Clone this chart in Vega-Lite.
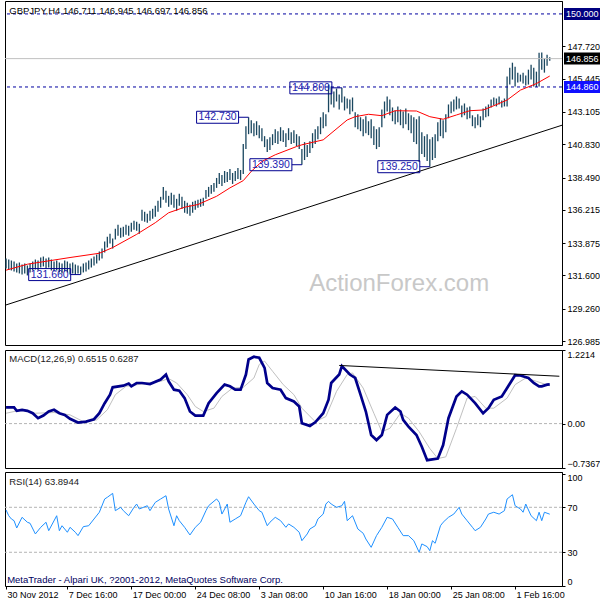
{
"$schema": "https://vega.github.io/schema/vega-lite/v6.json",
"background": "white",
"padding": {"left": 0, "top": 0, "right": 0, "bottom": 0},
"spacing": 2,
"config": {
  "view": {"stroke": "#000000", "strokeWidth": 1},
  "axis": {"grid": false, "labelOverlap": false, "labelFont": "Liberation Sans", "labelFontSize": 9, "labelColor": "#000000", "tickColor": "#000000", "domainColor": "#000000", "tickSize": 3, "labelPadding": 2},
  "text": {"font": "Liberation Sans"}
},
"datasets": {
  "bars": [
{"i":0,"y":132.09,"h":132.79},{"i":1,"y":132.02,"h":132.72},{"i":2,"y":131.95,"h":132.65},{"i":3,"y":131.88,"h":132.58},{"i":4,"y":131.81,"h":132.44},
{"i":5,"y":131.74,"h":132.51},{"i":6,"y":131.67,"h":132.37},{"i":7,"y":131.74,"h":132.44},{"i":8,"y":131.60,"h":132.30},{"i":9,"y":131.81,"h":132.44},
{"i":10,"y":131.95,"h":132.58},{"i":11,"y":132.02,"h":132.72},{"i":12,"y":131.95,"h":132.65},{"i":13,"y":132.16,"h":132.86},{"i":14,"y":132.23,"h":132.93},
{"i":15,"y":132.09,"h":132.79},{"i":16,"y":132.16,"h":132.86},{"i":17,"y":131.95,"h":132.72},{"i":18,"y":131.88,"h":132.58},{"i":19,"y":131.95,"h":132.65},
{"i":20,"y":131.81,"h":132.51},{"i":21,"y":131.74,"h":132.44},{"i":22,"y":131.88,"h":132.65},{"i":23,"y":131.81,"h":132.58},{"i":24,"y":131.67,"h":132.44},
{"i":25,"y":131.74,"h":132.51},{"i":26,"y":131.67,"h":132.37},{"i":27,"y":131.74,"h":132.30},{"i":28,"y":131.66,"h":132.23},{"i":29,"y":131.81,"h":132.44},
{"i":30,"y":131.88,"h":132.51},{"i":31,"y":132.02,"h":132.65},{"i":32,"y":132.16,"h":132.79},{"i":33,"y":132.30,"h":132.93},{"i":34,"y":132.44,"h":133.07},
{"i":35,"y":132.65,"h":133.28},{"i":36,"y":132.79,"h":133.49},{"i":37,"y":133.21,"h":133.98},{"i":38,"y":133.56,"h":134.33},{"i":39,"y":133.84,"h":134.54},
{"i":40,"y":133.49,"h":134.19},{"i":41,"y":134.12,"h":134.89},{"i":42,"y":134.40,"h":135.17},{"i":43,"y":134.26,"h":134.96},{"i":44,"y":134.33,"h":135.03},
{"i":45,"y":134.47,"h":135.17},{"i":46,"y":134.40,"h":135.10},{"i":47,"y":134.68,"h":135.31},{"i":48,"y":134.82,"h":135.45},{"i":49,"y":134.75,"h":135.38},
{"i":50,"y":134.54,"h":135.24},{"i":51,"y":135.45,"h":136.22},{"i":52,"y":135.38,"h":136.08},{"i":53,"y":135.31,"h":135.94},{"i":54,"y":135.45,"h":136.15},
{"i":55,"y":135.59,"h":136.29},{"i":56,"y":135.73,"h":136.50},{"i":57,"y":136.08,"h":136.85},{"i":58,"y":136.36,"h":137.13},{"i":59,"y":136.92,"h":137.83},
{"i":60,"y":136.71,"h":137.55},{"i":61,"y":136.43,"h":137.20},{"i":62,"y":136.57,"h":137.41},{"i":63,"y":136.36,"h":137.27},{"i":64,"y":136.15,"h":136.99},
{"i":65,"y":136.50,"h":137.34},{"i":66,"y":136.29,"h":137.13},{"i":67,"y":136.01,"h":136.85},{"i":68,"y":135.94,"h":136.71},{"i":69,"y":135.80,"h":136.57},
{"i":70,"y":136.01,"h":136.78},{"i":71,"y":136.22,"h":136.85},{"i":72,"y":136.36,"h":136.92},{"i":73,"y":136.43,"h":136.99},{"i":74,"y":136.50,"h":137.06},
{"i":75,"y":136.99,"h":137.62},{"i":76,"y":137.13,"h":137.83},{"i":77,"y":137.34,"h":137.97},{"i":78,"y":137.48,"h":138.11},{"i":79,"y":137.76,"h":138.46},
{"i":80,"y":138.04,"h":138.81},{"i":81,"y":137.90,"h":138.67},{"i":82,"y":138.11,"h":138.95},{"i":83,"y":138.18,"h":138.88},{"i":84,"y":138.32,"h":139.09},
{"i":85,"y":138.04,"h":138.81},{"i":86,"y":138.25,"h":138.95},{"i":87,"y":138.39,"h":139.16},{"i":88,"y":138.32,"h":139.02},{"i":89,"y":138.74,"h":140.84},
{"i":90,"y":140.49,"h":142.10},{"i":91,"y":141.54,"h":142.73},{"i":92,"y":141.61,"h":142.52},{"i":93,"y":141.40,"h":142.31},{"i":94,"y":141.47,"h":142.45},
{"i":95,"y":141.26,"h":142.17},{"i":96,"y":141.05,"h":141.96},{"i":97,"y":140.63,"h":141.40},{"i":98,"y":140.28,"h":141.19},{"i":99,"y":140.42,"h":141.33},
{"i":100,"y":140.77,"h":141.54},{"i":101,"y":140.91,"h":141.89},{"i":102,"y":140.84,"h":141.75},{"i":103,"y":141.05,"h":142.03},{"i":104,"y":140.98,"h":141.82},
{"i":105,"y":140.63,"h":141.61},{"i":106,"y":141.12,"h":141.96},{"i":107,"y":140.84,"h":141.68},{"i":108,"y":140.91,"h":141.82},{"i":109,"y":140.70,"h":141.54},
{"i":110,"y":140.49,"h":141.40},{"i":111,"y":139.39,"h":140.49},{"i":112,"y":139.72,"h":140.98},{"i":113,"y":139.93,"h":140.77},{"i":114,"y":140.21,"h":141.05},
{"i":115,"y":140.56,"h":141.61},{"i":116,"y":140.84,"h":141.89},{"i":117,"y":141.19,"h":142.10},{"i":118,"y":141.54,"h":142.73},{"i":119,"y":141.96,"h":143.08},
{"i":120,"y":142.10,"h":142.94},{"i":121,"y":143.08,"h":145.03},{"i":122,"y":143.63,"h":144.89},{"i":123,"y":143.42,"h":144.54},{"i":124,"y":143.84,"h":144.75},
{"i":125,"y":143.28,"h":144.33},{"i":126,"y":143.77,"h":144.80},{"i":127,"y":143.21,"h":144.19},{"i":128,"y":143.35,"h":144.05},{"i":129,"y":142.94,"h":143.98},
{"i":130,"y":143.14,"h":144.12},{"i":131,"y":142.03,"h":143.08},{"i":132,"y":141.89,"h":142.94},{"i":133,"y":141.75,"h":142.73},{"i":134,"y":141.40,"h":142.59},
{"i":135,"y":141.61,"h":142.80},{"i":136,"y":141.47,"h":142.45},{"i":137,"y":141.26,"h":142.59},{"i":138,"y":140.77,"h":142.10},{"i":139,"y":140.49,"h":141.89},
{"i":140,"y":140.63,"h":142.03},{"i":141,"y":142.03,"h":143.28},{"i":142,"y":142.66,"h":143.84},{"i":143,"y":143.14,"h":144.19},{"i":144,"y":142.87,"h":143.98},
{"i":145,"y":142.45,"h":143.42},{"i":146,"y":142.24,"h":143.21},{"i":147,"y":142.38,"h":143.49},{"i":148,"y":142.17,"h":143.28},{"i":149,"y":141.96,"h":143.14},
{"i":150,"y":142.24,"h":143.35},{"i":151,"y":141.82,"h":143.01},{"i":152,"y":141.61,"h":142.87},{"i":153,"y":140.98,"h":142.73},{"i":154,"y":140.84,"h":142.59},
{"i":155,"y":139.58,"h":142.80},{"i":156,"y":140.14,"h":141.68},{"i":157,"y":139.93,"h":141.40},{"i":158,"y":139.65,"h":141.54},{"i":159,"y":139.25,"h":141.19},
{"i":160,"y":139.72,"h":141.33},{"i":161,"y":139.86,"h":141.54},{"i":162,"y":141.05,"h":142.38},{"i":163,"y":141.40,"h":142.66},{"i":164,"y":141.26,"h":142.52},
{"i":165,"y":141.68,"h":142.94},{"i":166,"y":142.66,"h":143.63},{"i":167,"y":143.01,"h":143.84},{"i":168,"y":143.14,"h":143.98},{"i":169,"y":143.28,"h":144.19},
{"i":170,"y":143.35,"h":144.05},{"i":171,"y":142.73,"h":143.56},{"i":172,"y":142.87,"h":143.70},{"i":173,"y":142.59,"h":143.42},{"i":174,"y":142.66,"h":143.49},
{"i":175,"y":142.10,"h":142.87},{"i":176,"y":141.96,"h":142.73},{"i":177,"y":142.17,"h":142.94},{"i":178,"y":142.03,"h":142.80},{"i":179,"y":142.52,"h":143.35},
{"i":180,"y":142.73,"h":143.49},{"i":181,"y":142.80,"h":143.63},{"i":182,"y":143.42,"h":143.98},{"i":183,"y":143.56,"h":144.12},{"i":184,"y":143.49,"h":144.05},
{"i":185,"y":143.63,"h":144.19},{"i":186,"y":143.42,"h":143.91},{"i":187,"y":143.49,"h":144.05},{"i":188,"y":143.49,"h":145.59},{"i":189,"y":145.03,"h":146.22},
{"i":190,"y":145.38,"h":146.57},{"i":191,"y":144.89,"h":146.29},{"i":192,"y":145.17,"h":145.87},{"i":193,"y":145.24,"h":145.73},{"i":194,"y":145.10,"h":145.87},
{"i":195,"y":144.96,"h":145.66},{"i":196,"y":145.03,"h":146.08},{"i":197,"y":145.38,"h":146.43},{"i":198,"y":144.89,"h":146.22},{"i":199,"y":144.86,"h":145.94},
{"i":200,"y":144.89,"h":147.27},{"i":201,"y":146.08,"h":147.29},{"i":202,"y":145.87,"h":146.85},{"i":203,"y":146.36,"h":147.13},{"i":204,"y":146.697,"h":146.945}
  ],
  "ma": [
{"i":0,"y":131.97},{"i":8,"y":132.39},{"i":24,"y":132.86},{"i":35,"y":133.16},{"i":40,"y":133.56},{"i":49,"y":134.49},{"i":56,"y":135.31},{"i":61,"y":136.01},{"i":67,"y":136.40},{"i":72,"y":136.59},{"i":79,"y":137.17},{"i":84,"y":137.76},{"i":89,"y":138.27},{"i":92,"y":138.92},{"i":96,"y":139.62},{"i":101,"y":140.09},{"i":109,"y":140.67},{"i":111,"y":140.79},{"i":119,"y":141.14},{"i":128,"y":142.54},{"i":131,"y":142.77},{"i":136,"y":142.94},{"i":141,"y":142.84},{"i":146,"y":143.19},{"i":154,"y":143.17},{"i":159,"y":142.77},{"i":164,"y":142.59},{"i":169,"y":142.89},{"i":174,"y":143.19},{"i":179,"y":143.24},{"i":183,"y":143.54},{"i":188,"y":143.94},{"i":193,"y":144.64},{"i":199,"y":145.10},{"i":204,"y":145.63}
  ],
  "macd": [
{"i":0,"y":0.268},{"i":3,"y":0.268},{"i":4,"y":0.212},{"i":6,"y":0.229},{"i":8,"y":0.212},{"i":10,"y":0.172},{"i":12,"y":0.089},{"i":14,"y":0.134},{"i":16,"y":0.201},{"i":18,"y":0.229},{"i":20,"y":0.172},{"i":22,"y":0.145},{"i":24,"y":0.079},{"i":27,"y":0.017},{"i":30,"y":0.033},{"i":33,"y":0.072},{"i":35,"y":0.172},{"i":37,"y":0.339},{"i":39,"y":0.480},{"i":40,"y":0.602},{"i":44,"y":0.630},{"i":46,"y":0.664},{"i":47,"y":0.619},{"i":49,"y":0.674},{"i":51,"y":0.674},{"i":54,"y":0.657},{"i":58,"y":0.731},{"i":60,"y":0.814},{"i":61,"y":0.702},{"i":63,"y":0.563},{"i":65,"y":0.547},{"i":67,"y":0.423},{"i":69,"y":0.201},{"i":71,"y":0.134},{"i":74,"y":0.134},{"i":76,"y":0.339},{"i":79,"y":0.507},{"i":82,"y":0.647},{"i":84,"y":0.619},{"i":86,"y":0.563},{"i":88,"y":0.563},{"i":90,"y":0.814},{"i":91,"y":1.065},{"i":93,"y":1.109},{"i":95,"y":1.092},{"i":97,"y":0.925},{"i":98,"y":0.674},{"i":100,"y":0.590},{"i":103,"y":0.563},{"i":105,"y":0.423},{"i":108,"y":0.368},{"i":110,"y":0.284},{"i":111,"y":0.005},{"i":114,"y":-0.038},{"i":116,"y":0.022},{"i":119,"y":0.172},{"i":121,"y":0.396},{"i":122,"y":0.674},{"i":125,"y":0.814},{"i":126,"y":0.953},{"i":129,"y":0.814},{"i":131,"y":0.757},{"i":133,"y":0.480},{"i":135,"y":0.201},{"i":137,"y":-0.189},{"i":139,"y":-0.273},{"i":141,"y":-0.189},{"i":143,"y":0.145},{"i":146,"y":0.268},{"i":148,"y":0.201},{"i":149,"y":0.062},{"i":151,"y":-0.050},{"i":154,"y":-0.189},{"i":156,"y":-0.385},{"i":158,"y":-0.607},{"i":162,"y":-0.580},{"i":164,"y":-0.356},{"i":166,"y":0.089},{"i":169,"y":0.451},{"i":171,"y":0.535},{"i":173,"y":0.480},{"i":176,"y":0.339},{"i":179,"y":0.172},{"i":181,"y":0.256},{"i":183,"y":0.396},{"i":186,"y":0.451},{"i":188,"y":0.590},{"i":191,"y":0.803},{"i":193,"y":0.798},{"i":196,"y":0.757},{"i":198,"y":0.674},{"i":200,"y":0.619},{"i":201,"y":0.619},{"i":203,"y":0.647},{"i":204,"y":0.6515}
  ],
  "sig": [
{"i":0,"y":0.172},{"i":6,"y":0.229},{"i":11,"y":0.172},{"i":18,"y":0.184},{"i":24,"y":0.145},{"i":29,"y":0.033},{"i":34,"y":0.062},{"i":38,"y":0.229},{"i":41,"y":0.480},{"i":45,"y":0.619},{"i":51,"y":0.657},{"i":58,"y":0.702},{"i":61,"y":0.747},{"i":64,"y":0.674},{"i":68,"y":0.480},{"i":71,"y":0.284},{"i":74,"y":0.201},{"i":78,"y":0.256},{"i":81,"y":0.451},{"i":85,"y":0.590},{"i":89,"y":0.602},{"i":93,"y":0.757},{"i":95,"y":0.981},{"i":97,"y":1.037},{"i":100,"y":0.869},{"i":104,"y":0.647},{"i":108,"y":0.480},{"i":111,"y":0.256},{"i":116,"y":0.033},{"i":120,"y":0.117},{"i":124,"y":0.535},{"i":128,"y":0.814},{"i":130,"y":0.841},{"i":134,"y":0.590},{"i":138,"y":0.172},{"i":141,"y":-0.134},{"i":144,"y":-0.079},{"i":148,"y":0.172},{"i":151,"y":0.089},{"i":155,"y":-0.134},{"i":159,"y":-0.413},{"i":162,"y":-0.580},{"i":165,"y":-0.552},{"i":169,"y":-0.079},{"i":173,"y":0.423},{"i":176,"y":0.451},{"i":180,"y":0.256},{"i":183,"y":0.256},{"i":188,"y":0.423},{"i":191,"y":0.647},{"i":195,"y":0.757},{"i":199,"y":0.702},{"i":204,"y":0.6287}
  ],
  "rsi": [
{"i":0,"y":67.6},{"i":1,"y":62.5},{"i":2,"y":59.6},{"i":3,"y":58.1},{"i":4,"y":51.6},{"i":6,"y":61.1},{"i":8,"y":56.7},{"i":9,"y":55.8},{"i":11,"y":46.3},{"i":13,"y":52.2},{"i":15,"y":56.7},{"i":16,"y":49.2},{"i":19,"y":62.5},{"i":20,"y":49.2},{"i":21,"y":53.6},{"i":23,"y":47.8},{"i":24,"y":52.2},{"i":26,"y":47.8},{"i":27,"y":44.8},{"i":29,"y":52.8},{"i":31,"y":53.6},{"i":33,"y":59.6},{"i":35,"y":65.6},{"i":37,"y":77.4},{"i":38,"y":78.9},{"i":40,"y":82.4},{"i":41,"y":67.0},{"i":43,"y":70.0},{"i":44,"y":67.0},{"i":46,"y":62.5},{"i":48,"y":70.0},{"i":49,"y":72.9},{"i":50,"y":68.5},{"i":53,"y":71.4},{"i":54,"y":67.0},{"i":56,"y":74.4},{"i":58,"y":77.4},{"i":60,"y":80.3},{"i":61,"y":68.5},{"i":63,"y":53.6},{"i":64,"y":62.5},{"i":65,"y":58.1},{"i":67,"y":52.2},{"i":69,"y":45.4},{"i":71,"y":52.2},{"i":73,"y":56.7},{"i":75,"y":67.0},{"i":76,"y":71.4},{"i":79,"y":77.4},{"i":80,"y":74.4},{"i":81,"y":64.0},{"i":83,"y":72.9},{"i":84,"y":56.7},{"i":86,"y":59.6},{"i":88,"y":62.5},{"i":90,"y":74.4},{"i":91,"y":79.4},{"i":93,"y":72.9},{"i":95,"y":67.0},{"i":96,"y":65.6},{"i":98,"y":53.6},{"i":99,"y":56.7},{"i":101,"y":61.1},{"i":103,"y":58.1},{"i":105,"y":52.2},{"i":106,"y":55.2},{"i":108,"y":52.2},{"i":110,"y":47.8},{"i":111,"y":40.3},{"i":113,"y":46.3},{"i":114,"y":50.7},{"i":116,"y":53.6},{"i":117,"y":59.6},{"i":119,"y":64.0},{"i":120,"y":72.9},{"i":121,"y":75.3},{"i":122,"y":72.9},{"i":124,"y":70.0},{"i":126,"y":71.4},{"i":127,"y":75.3},{"i":128,"y":58.1},{"i":130,"y":62.5},{"i":132,"y":50.7},{"i":134,"y":46.9},{"i":135,"y":41.8},{"i":137,"y":34.4},{"i":139,"y":44.8},{"i":141,"y":52.2},{"i":143,"y":61.1},{"i":145,"y":59.6},{"i":147,"y":52.2},{"i":149,"y":44.8},{"i":151,"y":44.8},{"i":153,"y":40.3},{"i":155,"y":30.0},{"i":156,"y":37.4},{"i":158,"y":35.0},{"i":159,"y":31.4},{"i":160,"y":40.3},{"i":161,"y":38.0},{"i":163,"y":53.6},{"i":164,"y":56.7},{"i":166,"y":61.1},{"i":168,"y":64.0},{"i":170,"y":70.0},{"i":171,"y":64.0},{"i":173,"y":58.1},{"i":175,"y":52.2},{"i":176,"y":49.2},{"i":178,"y":52.2},{"i":180,"y":59.6},{"i":181,"y":64.0},{"i":183,"y":65.6},{"i":185,"y":64.0},{"i":187,"y":67.0},{"i":188,"y":77.4},{"i":190,"y":81.2},{"i":191,"y":71.4},{"i":193,"y":68.5},{"i":194,"y":65.6},{"i":195,"y":72.9},{"i":197,"y":62.5},{"i":199,"y":58.1},{"i":200,"y":65.6},{"i":201,"y":58.1},{"i":202,"y":65.6},{"i":204,"y":63.8944}
  ],
  "ann": [
{"lab":"131.660","i":28,"y":131.66},{"lab":"142.730","i":91,"y":142.73},{"lab":"139.390","i":111,"y":139.39},{"lab":"144.800","i":126,"y":144.80},{"lab":"139.250","i":159,"y":139.25}
  ]
},
"vconcat": [
{
  "width": 557, "height": 344,
  "layer": [
    {"data": {"name": "bars"}, "mark": {"type": "rule", "color": "#19465f", "strokeWidth": 1.3},
     "encoding": {
       "x": {"field": "i", "type": "quantitative", "scale": {"domain": [-0.4, 208.6], "nice": false, "zero": false}, "axis": null},
       "y": {"field": "y", "type": "quantitative", "scale": {"domain": [126.705, 150.91], "nice": false, "zero": false},
             "axis": {"orient": "right", "title": null, "grid": false, "labelOverlap": false, "values": [126.985, 129.26, 131.6, 133.875, 136.215, 138.49, 140.83, 143.105, 145.445, 147.72], "format": ".3f"}},
       "y2": {"field": "h"}}},
    {"data": {"values": [{"y": 150}, {"y": 144.86}]}, "mark": {"type": "rule", "color": "#0000a0", "strokeDash": [3, 3], "strokeWidth": 1},
     "encoding": {"y": {"field": "y", "type": "quantitative", "scale": {"domain": [126.705, 150.91], "nice": false, "zero": false},
             "axis": {"orient": "right", "title": null, "grid": false, "labelOverlap": false, "values": [126.985, 129.26, 131.6, 133.875, 136.215, 138.49, 140.83, 143.105, 145.445, 147.72], "format": ".3f"}}}},
    {"data": {"values": [{"y": 146.856}]}, "mark": {"type": "rule", "color": "#c0c0c0", "strokeWidth": 1},
     "encoding": {"y": {"field": "y", "type": "quantitative", "scale": {"domain": [126.705, 150.91], "nice": false, "zero": false},
             "axis": {"orient": "right", "title": null, "grid": false, "labelOverlap": false, "values": [126.985, 129.26, 131.6, 133.875, 136.215, 138.49, 140.83, 143.105, 145.445, 147.72], "format": ".3f"}}}},
    {"data": {"name": "ma"}, "mark": {"type": "line", "color": "#ff0000", "strokeWidth": 1},
     "encoding": {
       "x": {"field": "i", "type": "quantitative", "scale": {"domain": [-0.4, 208.6], "nice": false, "zero": false}, "axis": null},
       "y": {"field": "y", "type": "quantitative", "scale": {"domain": [126.705, 150.91], "nice": false, "zero": false},
             "axis": {"orient": "right", "title": null, "grid": false, "labelOverlap": false, "values": [126.985, 129.26, 131.6, 133.875, 136.215, 138.49, 140.83, 143.105, 145.445, 147.72], "format": ".3f"}}}},
    {"data": {"values": [{"i": -0.4, "y": 129.5, "i2": 208.6, "y2": 142.17}]}, "mark": {"type": "rule", "color": "#000000", "strokeWidth": 1},
     "encoding": {
       "x": {"field": "i", "type": "quantitative", "scale": {"domain": [-0.4, 208.6], "nice": false, "zero": false}, "axis": null},
       "x2": {"field": "i2"},
       "y": {"field": "y", "type": "quantitative", "scale": {"domain": [126.705, 150.91], "nice": false, "zero": false},
             "axis": {"orient": "right", "title": null, "grid": false, "labelOverlap": false, "values": [126.985, 129.26, 131.6, 133.875, 136.215, 138.49, 140.83, 143.105, 145.445, 147.72], "format": ".3f"}},
       "y2": {"field": "y2"}}},
    {"data": {"name": "ann"}, "mark": {"type": "rect", "fillOpacity": 0, "stroke": "#000090", "strokeWidth": 1, "xOffset": -52, "x2Offset": -10, "yOffset": -6, "y2Offset": 6},
     "encoding": {
       "x": {"field": "i", "type": "quantitative", "scale": {"domain": [-0.4, 208.6], "nice": false, "zero": false}, "axis": null},
       "x2": {"field": "i"},
       "y": {"field": "y", "type": "quantitative", "scale": {"domain": [126.705, 150.91], "nice": false, "zero": false},
             "axis": {"orient": "right", "title": null, "grid": false, "labelOverlap": false, "values": [126.985, 129.26, 131.6, 133.875, 136.215, 138.49, 140.83, 143.105, 145.445, 147.72], "format": ".3f"}},
       "y2": {"field": "y"}}},
    {"data": {"name": "ann"}, "mark": {"type": "rule", "color": "#000090", "strokeWidth": 1, "xOffset": -10},
     "encoding": {
       "x": {"field": "i", "type": "quantitative", "scale": {"domain": [-0.4, 208.6], "nice": false, "zero": false}, "axis": null},
       "x2": {"field": "i"},
       "y": {"field": "y", "type": "quantitative", "scale": {"domain": [126.705, 150.91], "nice": false, "zero": false},
             "axis": {"orient": "right", "title": null, "grid": false, "labelOverlap": false, "values": [126.985, 129.26, 131.6, 133.875, 136.215, 138.49, 140.83, 143.105, 145.445, 147.72], "format": ".3f"}}}},
    {"data": {"name": "ann"}, "mark": {"type": "text", "dx": -31, "align": "center", "baseline": "middle", "fontSize": 10.5, "color": "#1c1cb0"},
     "encoding": {
       "x": {"field": "i", "type": "quantitative", "scale": {"domain": [-0.4, 208.6], "nice": false, "zero": false}, "axis": null},
       "y": {"field": "y", "type": "quantitative", "scale": {"domain": [126.705, 150.91], "nice": false, "zero": false},
             "axis": {"orient": "right", "title": null, "grid": false, "labelOverlap": false, "values": [126.985, 129.26, 131.6, 133.875, 136.215, 138.49, 140.83, 143.105, 145.445, 147.72], "format": ".3f"}},
       "text": {"field": "lab"}}},
    {"data": {"values": [{"t": "ActionForex.com"}]}, "mark": {"type": "text", "align": "center", "baseline": "middle", "fontSize": 24, "color": "#c8c8c8"},
     "encoding": {
       "x": {"datum": 147.5, "type": "quantitative", "scale": {"domain": [-0.4, 208.6], "nice": false, "zero": false}, "axis": null},
       "y": {"datum": 130.97, "type": "quantitative", "scale": {"domain": [126.705, 150.91], "nice": false, "zero": false},
             "axis": {"orient": "right", "title": null, "grid": false, "labelOverlap": false, "values": [126.985, 129.26, 131.6, 133.875, 136.215, 138.49, 140.83, 143.105, 145.445, 147.72], "format": ".3f"}},
       "text": {"field": "t"}}},
    {"data": {"values": [{"t": "GBPJPY,H4  146.711 146.945 146.697 146.856"}]}, "mark": {"type": "text", "align": "left", "baseline": "middle", "fontSize": 9.5, "color": "#000000"},
     "encoding": {
       "x": {"datum": 1.2, "type": "quantitative", "scale": {"domain": [-0.4, 208.6], "nice": false, "zero": false}, "axis": null},
       "y": {"datum": 150.21, "type": "quantitative", "scale": {"domain": [126.705, 150.91], "nice": false, "zero": false},
             "axis": {"orient": "right", "title": null, "grid": false, "labelOverlap": false, "values": [126.985, 129.26, 131.6, 133.875, 136.215, 138.49, 140.83, 143.105, 145.445, 147.72], "format": ".3f"}},
       "text": {"field": "t"}}},
    {"data": {"values": [{"y": 150}]}, "mark": {"type": "rect", "color": "#000080", "xOffset": 2, "x2Offset": 39, "yOffset": -6, "y2Offset": 6, "clip": false},
     "encoding": {
       "x": {"datum": 208.6, "type": "quantitative", "scale": {"domain": [-0.4, 208.6], "nice": false, "zero": false}, "axis": null},
       "x2": {"datum": 208.6},
       "y": {"field": "y", "type": "quantitative", "scale": {"domain": [126.705, 150.91], "nice": false, "zero": false},
             "axis": {"orient": "right", "title": null, "grid": false, "labelOverlap": false, "values": [126.985, 129.26, 131.6, 133.875, 136.215, 138.49, 140.83, 143.105, 145.445, 147.72], "format": ".3f"}},
       "y2": {"field": "y"}}},
    {"data": {"values": [{"y": 146.856}]}, "mark": {"type": "rect", "color": "#000000", "xOffset": 2, "x2Offset": 39, "yOffset": -6, "y2Offset": 6, "clip": false},
     "encoding": {
       "x": {"datum": 208.6, "type": "quantitative", "scale": {"domain": [-0.4, 208.6], "nice": false, "zero": false}, "axis": null},
       "x2": {"datum": 208.6},
       "y": {"field": "y", "type": "quantitative", "scale": {"domain": [126.705, 150.91], "nice": false, "zero": false},
             "axis": {"orient": "right", "title": null, "grid": false, "labelOverlap": false, "values": [126.985, 129.26, 131.6, 133.875, 136.215, 138.49, 140.83, 143.105, 145.445, 147.72], "format": ".3f"}},
       "y2": {"field": "y"}}},
    {"data": {"values": [{"y": 144.86}]}, "mark": {"type": "rect", "color": "#1010ff", "xOffset": 2, "x2Offset": 39, "yOffset": -6, "y2Offset": 6, "clip": false},
     "encoding": {
       "x": {"datum": 208.6, "type": "quantitative", "scale": {"domain": [-0.4, 208.6], "nice": false, "zero": false}, "axis": null},
       "x2": {"datum": 208.6},
       "y": {"field": "y", "type": "quantitative", "scale": {"domain": [126.705, 150.91], "nice": false, "zero": false},
             "axis": {"orient": "right", "title": null, "grid": false, "labelOverlap": false, "values": [126.985, 129.26, 131.6, 133.875, 136.215, 138.49, 140.83, 143.105, 145.445, 147.72], "format": ".3f"}},
       "y2": {"field": "y"}}},
    {"data": {"values": [{"y": 150, "t": "150.000"}, {"y": 146.856, "t": "146.856"}, {"y": 144.86, "t": "144.860"}]}, "mark": {"type": "text", "align": "left", "baseline": "middle", "dx": 4, "fontSize": 9, "color": "#ffffff", "clip": false},
     "encoding": {
       "x": {"datum": 208.6, "type": "quantitative", "scale": {"domain": [-0.4, 208.6], "nice": false, "zero": false}, "axis": null},
       "y": {"field": "y", "type": "quantitative", "scale": {"domain": [126.705, 150.91], "nice": false, "zero": false},
             "axis": {"orient": "right", "title": null, "grid": false, "labelOverlap": false, "values": [126.985, 129.26, 131.6, 133.875, 136.215, 138.49, 140.83, 143.105, 145.445, 147.72], "format": ".3f"}},
       "text": {"field": "t"}}}
  ]
},
{
  "width": 557, "height": 118,
  "layer": [
    {"data": {"values": [{"y": 0}]}, "mark": {"type": "rule", "color": "#b4b4b4", "strokeDash": [3, 2], "strokeWidth": 1},
     "encoding": {"y": {"field": "y", "type": "quantitative", "scale": {"domain": [-0.7367, 1.2214], "nice": false, "zero": false},
       "axis": {"orient": "right", "title": null, "grid": false, "labelOverlap": false, "values": [-0.7367, 0, 1.2214], "labelExpr": "datum.value == 0 ? '0.00' : format(datum.value, '.4f')", "labelFlush": true}}}},
    {"data": {"name": "sig"}, "mark": {"type": "line", "color": "#c0c0c0", "strokeWidth": 1},
     "encoding": {
       "x": {"field": "i", "type": "quantitative", "scale": {"domain": [-0.4, 208.6], "nice": false, "zero": false}, "axis": null},
       "y": {"field": "y", "type": "quantitative", "scale": {"domain": [-0.7367, 1.2214], "nice": false, "zero": false}}}},
    {"data": {"name": "macd"}, "mark": {"type": "line", "color": "#00008b", "strokeWidth": 2.7},
     "encoding": {
       "x": {"field": "i", "type": "quantitative", "scale": {"domain": [-0.4, 208.6], "nice": false, "zero": false}, "axis": null},
       "y": {"field": "y", "type": "quantitative", "scale": {"domain": [-0.7367, 1.2214], "nice": false, "zero": false}}}},
    {"data": {"values": [{"i": 125, "y": 0.965, "i2": 207.6, "y2": 0.786}]}, "mark": {"type": "rule", "color": "#000000", "strokeWidth": 1},
     "encoding": {
       "x": {"field": "i", "type": "quantitative", "scale": {"domain": [-0.4, 208.6], "nice": false, "zero": false}, "axis": null},
       "x2": {"field": "i2"},
       "y": {"field": "y", "type": "quantitative", "scale": {"domain": [-0.7367, 1.2214], "nice": false, "zero": false}},
       "y2": {"field": "y2"}}},
    {"data": {"values": [{"t": "MACD(12,26,9) 0.6515 0.6287"}]}, "mark": {"type": "text", "align": "left", "baseline": "middle", "fontSize": 9.5, "color": "#1a1a1a"},
     "encoding": {
       "x": {"datum": 1.2, "type": "quantitative", "scale": {"domain": [-0.4, 208.6], "nice": false, "zero": false}, "axis": null},
       "y": {"datum": 1.07, "type": "quantitative", "scale": {"domain": [-0.7367, 1.2214], "nice": false, "zero": false}},
       "text": {"field": "t"}}}
  ]
},
{
  "width": 557, "height": 114,
  "layer": [
    {"data": {"values": [{"y": 70}, {"y": 30}]}, "mark": {"type": "rule", "color": "#b4b4b4", "strokeDash": [3, 2], "strokeWidth": 1},
     "encoding": {"y": {"field": "y", "type": "quantitative", "scale": {"domain": [0, 101.4], "nice": false, "zero": false},
       "axis": {"orient": "right", "title": null, "grid": false, "labelOverlap": false, "values": [0, 30, 70, 100], "labelFlush": 6}}}},
    {"data": {"name": "rsi"}, "mark": {"type": "line", "color": "#1e90ff", "strokeWidth": 1},
     "encoding": {
       "x": {"field": "i", "type": "quantitative", "scale": {"domain": [-0.4, 208.6], "nice": false, "zero": false},
             "axis": {"orient": "bottom", "title": null, "grid": false, "labelOverlap": false, "values": [0, 23, 47, 71, 95, 119, 143, 167, 191], "labelAlign": "left", "labelOffset": 1, "labelBaseline": "top", "labelPadding": 1, "domain": false, "labelFlush": false,
               "labelExpr": "datum.value == 0 ? '30 Nov 2012' : datum.value == 23 ? '7 Dec 16:00' : datum.value == 47 ? '17 Dec 00:00' : datum.value == 71 ? '24 Dec 08:00' : datum.value == 95 ? '3 Jan 08:00' : datum.value == 119 ? '10 Jan 16:00' : datum.value == 143 ? '18 Jan 00:00' : datum.value == 167 ? '25 Jan 08:00' : '1 Feb 16:00'"}},
       "y": {"field": "y", "type": "quantitative", "scale": {"domain": [0, 101.4], "nice": false, "zero": false},
       "axis": {"orient": "right", "title": null, "grid": false, "labelOverlap": false, "values": [0, 30, 70, 100], "labelFlush": 6}}}},
    {"data": {"values": [{"t": "RSI(14) 63.8944"}]}, "mark": {"type": "text", "align": "left", "baseline": "middle", "fontSize": 9.5, "color": "#1a1a1a"},
     "encoding": {
       "x": {"datum": 1.2, "type": "quantitative", "scale": {"domain": [-0.4, 208.6], "nice": false, "zero": false}},
       "y": {"datum": 92.5, "type": "quantitative", "scale": {"domain": [0, 101.4], "nice": false, "zero": false},
       "axis": {"orient": "right", "title": null, "grid": false, "labelOverlap": false, "values": [0, 30, 70, 100], "labelFlush": 6}},
       "text": {"field": "t"}}},
    {"data": {"values": [{"t": "MetaTrader - Alpari UK, ?2001-2012, MetaQuotes Software Corp."}]}, "mark": {"type": "text", "align": "left", "baseline": "middle", "fontSize": 9.5, "color": "#000060"},
     "encoding": {
       "x": {"datum": 0.4, "type": "quantitative", "scale": {"domain": [-0.4, 208.6], "nice": false, "zero": false}},
       "y": {"datum": 5.6, "type": "quantitative", "scale": {"domain": [0, 101.4], "nice": false, "zero": false},
       "axis": {"orient": "right", "title": null, "grid": false, "labelOverlap": false, "values": [0, 30, 70, 100], "labelFlush": 6}},
       "text": {"field": "t"}}}
  ]
}
]
}
